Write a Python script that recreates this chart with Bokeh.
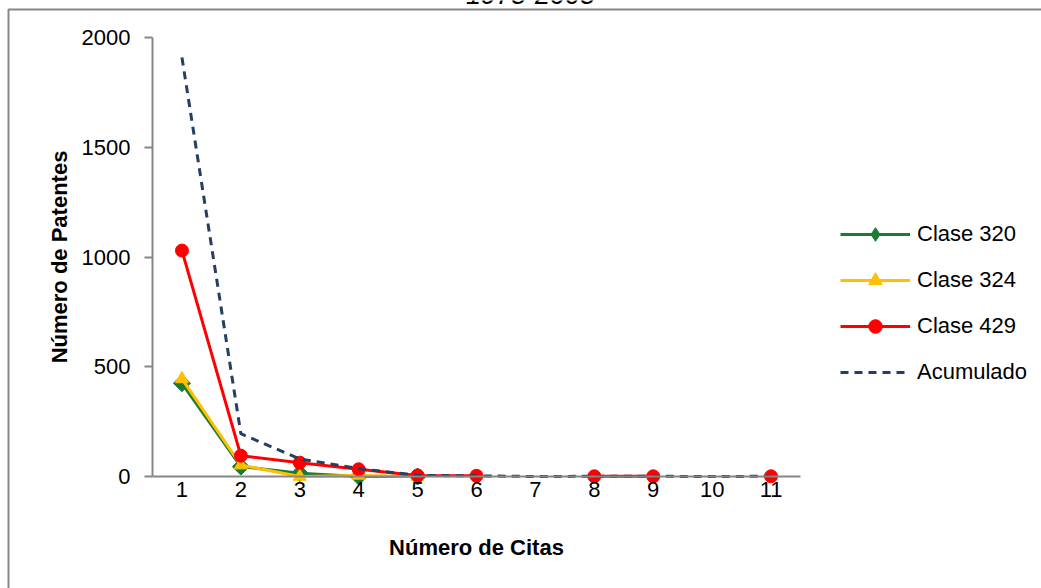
import math
from bokeh.plotting import figure
from bokeh.models import (Range1d, FixedTicker, Legend, LegendItem, BoxAnnotation, Label)
from bokeh.embed import file_html
from bokeh.resources import INLINE

nan = float("nan")

citas = [1, 2, 3, 4, 5, 6, 7, 8, 9, 10, 11]
citas_320 = [1, 2, 3, 4, 5]
clase_320 = [425, 45, 15, 0, 0]
citas_324 = [1, 2, 3, 4, 5]
clase_324 = [445, 52, 0, 5, 0]
clase_429 = [1030, 95, 63, 33, 5, 3, nan, 1, 1, nan, 1]
acumulado = [1910, 195, 80, 36, 5, 3, 0, 1, 1, 0, 1]
y_ticks = [0, 500, 1000, 1500, 2000]
x_labels = [str(c) for c in citas]
series_names = ["Clase 320", "Clase 324", "Clase 429", "Acumulado"]
title_text = "1975-2005"
x_title = "Número de Citas"
y_title = "Número de Patentes"

FONT = "Liberation Sans"
FS = "22px"
GREEN = "#1B7A34"
YELLOW = "#FFC000"
RED = "#FF0000"
NAVY = "#243F60"
GRAY = "#868686"

W, H = 1041, 588
# pixel layout of the plot area inside the canvas
AX_LEFT, AX_RIGHT = 152.0, 800.0      # x = 0.5 .. 11.5
AX_TOP, AX_BOTTOM = 37.3, 476.0       # y = 2000 .. 0
X0, X1 = 0.5, 11.5
Y0, Y1 = 0.0, 2000.0
kx = (AX_RIGHT - AX_LEFT) / (X1 - X0)
ky = (AX_BOTTOM - AX_TOP) / (Y1 - Y0)
x_range = Range1d(X0 - AX_LEFT / kx, X1 + (W - AX_RIGHT) / kx)
y_range = Range1d(Y0 - (H - AX_BOTTOM) / ky, Y1 + AX_TOP / ky)

def px_x(px):
    return x_range.start + px / kx

def px_y(py):
    return y_range.end - py / ky

p = figure(width=W, height=H, output_backend="svg", toolbar_location=None,
           x_range=x_range, y_range=y_range,
           min_border=0, min_border_left=0, min_border_right=0,
           min_border_top=0, min_border_bottom=0)
p.title.visible = False
p.outline_line_color = None
p.xgrid.visible = False
p.ygrid.visible = False
p.background_fill_color = "white"
p.border_fill_color = "white"

# y axis
ya = p.yaxis[0]
ya.fixed_location = X0
ya.ticker = FixedTicker(ticks=y_ticks)
ya.bounds = (Y0, Y1)
ya.axis_line_color = GRAY
ya.axis_line_width = 2
ya.major_tick_line_color = GRAY
ya.major_tick_line_width = 2
ya.major_tick_out = 8
ya.major_tick_in = 0
ya.minor_tick_line_color = None
ya.major_label_standoff = 14
ya.major_label_text_font = FONT
ya.major_label_text_font_size = FS
ya.major_label_text_color = "black"
ya.axis_label = y_title
ya.axis_label_text_font = FONT
ya.axis_label_text_font_size = FS
ya.axis_label_text_font_style = "bold"
ya.axis_label_text_color = "black"
ya.axis_label_standoff = 7

# x axis
xa = p.xaxis[0]
xa.fixed_location = Y0
xa.ticker = FixedTicker(ticks=citas)
xa.bounds = (X0, X1)
xa.major_label_overrides = {c: l for c, l in zip(citas, x_labels)}
xa.axis_line_color = GRAY
xa.axis_line_width = 2
xa.major_tick_line_color = None
xa.major_tick_out = 0
xa.major_tick_in = 0
xa.minor_tick_line_color = None
xa.major_label_standoff = 5
xa.major_label_text_font = FONT
xa.major_label_text_font_size = FS
xa.major_label_text_color = "black"
xa.axis_label = x_title
xa.axis_label_text_font = FONT
xa.axis_label_text_font_size = FS
xa.axis_label_text_font_style = "bold"
xa.axis_label_text_color = "black"
xa.axis_label_standoff = 35

# series
l1 = p.line(citas_320, clase_320, line_color=GREEN, line_width=3, line_join="round")
m1 = p.scatter(citas_320, clase_320, marker="square", angle=math.pi / 4, size=12,
               fill_color=GREEN, line_color=GREEN)
l2 = p.line(citas_324, clase_324, line_color=YELLOW, line_width=3, line_join="round")
m2 = p.scatter(citas_324, clase_324, marker="triangle", size=13,
               fill_color=YELLOW, line_color=YELLOW)
l3 = p.line(citas, clase_429, line_color=RED, line_width=3, line_join="round")
m3 = p.scatter(citas, clase_429, marker="circle", size=13,
               fill_color=RED, line_color=RED)
l4 = p.line(citas, acumulado, line_color=NAVY, line_width=3, line_dash="8 6")

# legend key for the diamond marker (legend glyphs ignore marker rotation);
# a single undefined point, so nothing is drawn in the plot itself
m1_key = p.scatter(x=[nan], y=[nan], marker="diamond", size=18,
                   fill_color=GREEN, line_color=GREEN)

legend = Legend(items=[
    LegendItem(label=series_names[0], renderers=[l1, m1_key]),
    LegendItem(label=series_names[1], renderers=[l2, m2]),
    LegendItem(label=series_names[2], renderers=[l3, m3]),
    LegendItem(label=series_names[3], renderers=[l4]),
], location=(840, H - 389))
legend.glyph_width = 70
legend.glyph_height = 34
legend.label_height = 34
legend.spacing = 12
legend.padding = 0
legend.margin = 0
legend.label_standoff = 7
legend.label_text_font = FONT
legend.label_text_font_size = FS
legend.label_text_color = "black"
legend.border_line_color = None
legend.background_fill_alpha = 0
p.add_layout(legend, "center")

# outer chart border (partially visible) and the cut-off chart title
border = BoxAnnotation(left=px_x(8), right=px_x(W + 20), top=px_y(9), bottom=px_y(H + 20),
                       fill_alpha=0, fill_color=None, line_color=GRAY,
                       line_alpha=1.0, line_width=2)
p.add_layout(border)
title = Label(x=px_x(530), y=px_y(-6),
              text=title_text, text_font=FONT, text_font_size="27px",
              text_font_style="italic", text_align="center", text_baseline="alphabetic",
              text_color="black")
p.add_layout(title)

open("out.html", "w").write(file_html(p, INLINE))
